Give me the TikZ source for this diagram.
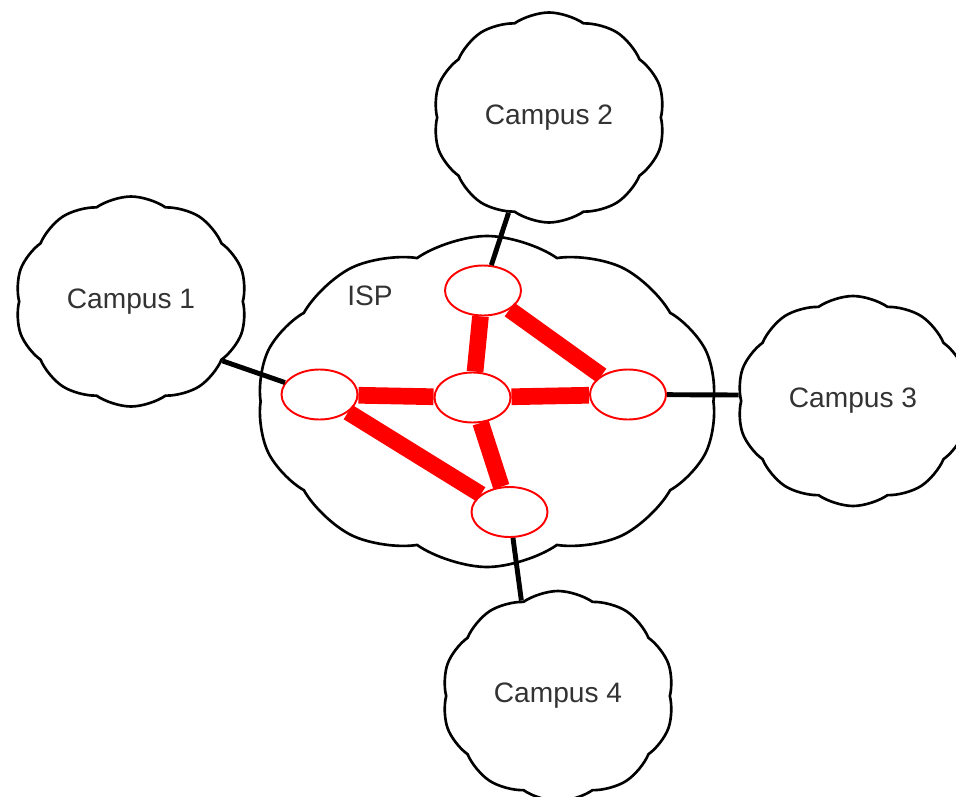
\documentclass[tikz,border=0pt]{standalone}
\usepackage{fontspec}
\setmainfont{Liberation Sans}
\usepackage{tikz}
\usetikzlibrary{shapes.symbols,shapes.geometric}
\tikzset{
    campus/.style={cloud, cloud puffs=10, cloud puff arc=70, cloud ignores aspect,
        draw, line width=1.5pt, fill=white, minimum width=4.64cm, minimum height=4.2cm,
        text=black!80, font=\fontsize{16}{19}\selectfont},
    router/.style={ellipse, draw=red, line width=1.1pt, fill=white,
        minimum width=1.52cm, minimum height=1.0cm},
    uplink/.style={line width=2.8pt},
    core/.style={red, line width=9.5pt}
}

\begin{document}
\begin{tikzpicture}
    \useasboundingbox (0,0) rectangle (19.12,15.92);
    %clouds
    \node[campus, minimum width=9.2cm, minimum height=6.62cm] (isp) at (9.74,7.89) {};
    \node[text=black!80, font=\fontsize{16}{19}\selectfont] (isplabel) at (7.40,10.0) {ISP};
    \node[campus] (c1) at (2.62,9.89) {Campus 1};
    \node[campus] (c2) at (10.98,13.57) {Campus 2};
    \node[campus] (c3) at (17.06,7.90) {Campus 3};
    \node[campus] (c4) at (11.16,2.00) {Campus 4};
    %routers
    \node[router] (rt) at (9.66,10.11) {};
    \node[router] (rl) at (6.39,8.03) {};
    \node[router] (rc) at (9.45,7.97) {};
    \node[router] (rr) at (12.56,8.03) {};
    \node[router] (rb) at (10.19,5.68) {};
    %access links
    \draw[uplink] (c1.-33) -- (rl);
    \draw[uplink] (c2.247) -- (rt);
    \draw[uplink] (c3.177) -- (rr);
    \draw[uplink] (c4.111) -- (rb);
    %backbone
    \draw[core] (rt) -- (rc);
    \draw[core] (rt) -- (rr);
    \draw[core] (rl) -- (rc);
    \draw[core] (rc) -- (rr);
    \draw[core] (rl) -- (rb);
    \draw[core] (rc) -- (rb);
\end{tikzpicture}
\end{document}
